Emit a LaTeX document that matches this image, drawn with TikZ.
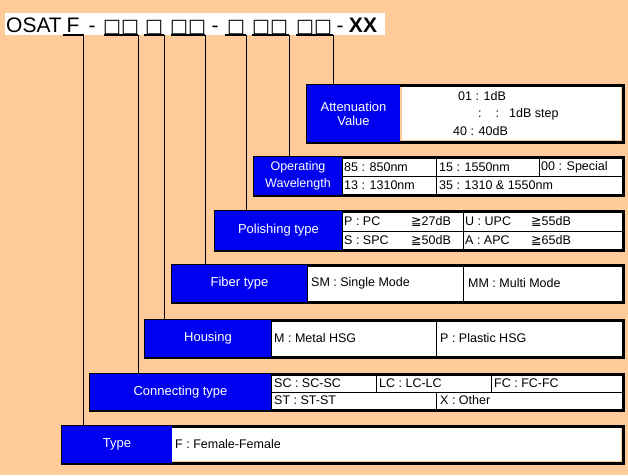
\documentclass[tikz,border=0pt]{standalone}
\usepackage{fontspec}
\setmainfont{Liberation Sans}
\newfontfamily\symf{DejaVu Sans}
\definecolor{bg}{HTML}{FFCC99}
\definecolor{bl}{HTML}{0000F0}
\begin{document}
\begin{tikzpicture}[x=1pt,y=-1pt,
  frame/.style={draw=black,line width=3pt},
  bluebox/.style={fill=bl},
  cell/.style={fill=white,draw=black,line width=1pt},
  lbl/.style={text=white,font=\fontsize{13}{14}\selectfont,align=center},
  ct/.style={anchor=west,font=\fontsize{12.5}{13}\selectfont,inner sep=1pt},
  hd/.style={font=\fontsize{21}{22}\selectfont,inner sep=0pt,anchor=base},
  sq/.style={font=\symf\fontsize{19}{20}\selectfont,inner sep=0pt,anchor=base},
  ul/.style={line width=1.6pt},
  vl/.style={line width=1pt}]
\fill[bg] (0,0) rectangle (628,475);
\useasboundingbox (0,0) rectangle (628,475);
\fill[white] (5,13) rectangle (385,35);
% header
\node[hd] (osat) at (34,32) {OSAT};
\node[hd] (f) at (73,32) {F};
\node[hd] (d1) at (92,32) {-};
\node[sq] (s1) at (121,32) {□□};
\node[sq] (s2) at (154,32) {□};
\node[sq] (s3) at (188,32) {□□};
\node[hd] (d2) at (215,32) {-};
\node[sq] (s4) at (236,32) {□};
\node[sq] (s5) at (270,32) {□□};
\node[sq] (s6) at (314,32) {□□};
\node[hd] (d3) at (340,32) {-};
\node[hd,font=\bfseries\fontsize{21}{22}\selectfont] (xx) at (363,32) {XX};
\foreach \a/\b in {63/84,104/138,144/164,171/205,225/246,252/289,296/333}
  \draw[ul] (\a,35) -- (\b,35);
% rows
% Attenuation
\draw[frame] (307,85) rectangle (623,142);
\fill[bluebox] (307,85) rectangle (400,142);
\fill[white] (402,87) rectangle (621,140);
\node[lbl] (att) at (353.5,113.5) {Attenuation\\Value};
\node[ct] at (457,96) {01 : 1dB};
\node[ct] at (477,114) {:\hspace{14pt}:\hspace{10pt}1dB step};
\node[ct] at (452,131) {40 : 40dB};
% Operating
\draw[frame] (254,157) rectangle (623,195);
\fill[bluebox] (254,157) rectangle (342,195);
\draw[cell] (342,158) rectangle (436,176);
\draw[cell] (436,158) rectangle (539,176);
\draw[cell] (539,158) rectangle (622,176);
\draw[cell] (342,176) rectangle (436,194);
\draw[cell] (436,176) rectangle (622,194);
\node[lbl,font=\fontsize{12.5}{17}\selectfont] (op) at (298,176) {Operating\\Wavelength};
\node[ct] at (343,167) {85 : 850nm};
\node[ct] at (438,167) {15 : 1550nm};
\node[ct] at (540,167) {00 : Special};
\node[ct] at (343,185) {13 : 1310nm};
\node[ct] at (438,185) {35 : 1310 \& 1550nm};
% Polishing
\draw[frame] (215,211) rectangle (623,250);
\fill[bluebox] (215,211) rectangle (342,250);
\draw[cell] (342,212) rectangle (463,231);
\draw[cell] (463,212) rectangle (622,231);
\draw[cell] (342,231) rectangle (463,249);
\draw[cell] (463,231) rectangle (622,249);
\node[lbl] (pol) at (278.5,230.5) {Polishing type};
\node[ct] at (343,221.5) {P : PC};
\node[ct] at (410,221.5) {{\symf ≧}27dB};
\node[ct] at (464,221.5) {U : UPC};
\node[ct] at (530,221.5) {{\symf ≧}55dB};
\node[ct] at (343,240) {S : SPC};
\node[ct] at (410,240) {{\symf ≧}50dB};
\node[ct] at (464,240) {A : APC};
\node[ct] at (530,240) {{\symf ≧}65dB};
% Fiber type
\draw[frame] (172,265) rectangle (623,302);
\fill[bluebox] (172,265) rectangle (307,302);
\draw[cell] (307,266) rectangle (463,301);
\draw[cell] (463,266) rectangle (622,301);
\node[lbl] (fib) at (239.5,283.5) {Fiber type};
\node[ct] at (310,283.5) {SM : Single Mode};
\node[ct] at (467,283.5) {MM : Multi Mode};
% Housing
\draw[frame] (145,320) rectangle (623,357);
\fill[bluebox] (145,320) rectangle (271,357);
\draw[cell] (271,321) rectangle (436,356);
\draw[cell] (436,321) rectangle (622,356);
\node[lbl] (hou) at (208,338.5) {Housing};
\node[ct] at (273,338.5) {M : Metal HSG};
\node[ct] at (439,338.5) {P : Plastic HSG};
% Connecting
\draw[frame] (90,374) rectangle (623,410);
\fill[bluebox] (90,374) rectangle (271,410);
\draw[cell] (271,375) rectangle (376,392);
\draw[cell] (376,375) rectangle (491,392);
\draw[cell] (491,375) rectangle (622,392);
\draw[cell] (271,392) rectangle (436,409);
\draw[cell] (436,392) rectangle (622,409);
\node[lbl] (con) at (180.5,392) {Connecting type};
\node[ct] at (273,383.5) {SC : SC-SC};
\node[ct] at (378,383.5) {LC : LC-LC};
\node[ct] at (493,383.5) {FC : FC-FC};
\node[ct] at (273,400.5) {ST : ST-ST};
\node[ct] at (439,400.5) {X : Other};
% Type
\draw[frame] (62,426) rectangle (623,463);
\fill[bluebox] (62,426) rectangle (172,463);
\fill[white] (172,428) rectangle (621,461);
\node[lbl] (typ) at (117,444.5) {Type};
\node[ct] at (174,444.5) {F : Female-Female};
% connectors
\draw[vl] (83,35) -- (83,426);
\draw[vl] (138,35) -- (138,374);
\draw[vl] (164,35) -- (164,320);
\draw[vl] (205,35) -- (205,265);
\draw[vl] (246,35) -- (246,211);
\draw[vl] (289,35) -- (289,157);
\draw[vl] (333,35) -- (333,85);
\end{tikzpicture}
\end{document}
